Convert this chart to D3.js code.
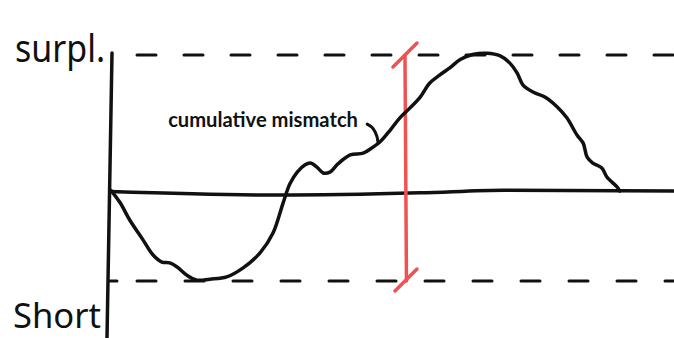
<!DOCTYPE html>
<html>
<head>
<meta charset="utf-8">
<script src="https://cdn.jsdelivr.net/npm/d3@7"></script>
<style>
  html, body { margin: 0; padding: 0; background: #fff; overflow: hidden; }
  svg { display: block; }
</style>
</head>
<body>
<svg id="chart" width="674" height="338"></svg>
<script>
// Cumulative mismatch between supply and demand over time (arbitrary units)
const timeSteps = [0.2, 1.8, 3.5, 5.85, 7.6, 9.2, 10.6, 11.9, 13.6, 15.4, 17.7, 20.7, 23.6, 26.6, 28.9,
  30.7, 31.9, 33.2, 34.6, 35.5, 36.7, 37.8, 39.0, 40.4, 42.6, 44.9, 46.6, 47.9, 49.7, 51.4, 53.2,
  55.0, 56.7, 58.5, 60.3, 62.1, 64.3, 66.8, 69.2, 70.9, 72.2, 73.2, 75.0, 77.1, 79.3, 81.0, 82.8,
  83.9, 84.6, 85.6, 87.2, 88.1, 89.9, 90.4];
const mismatch = [0.0, -0.27, -0.65, -1.09, -1.42, -1.58, -1.60, -1.69, -1.87, -1.98, -1.96, -1.91, -1.71, -1.38, -0.94,
  -0.27, 0.15, 0.41, 0.57, 0.61, 0.52, 0.39, 0.41, 0.59, 0.79, 0.83, 0.96, 1.08, 1.34, 1.61, 1.83,
  2.07, 2.38, 2.56, 2.72, 2.90, 3.01, 3.04, 2.98, 2.82, 2.60, 2.34, 2.18, 2.07, 1.85, 1.61, 1.23,
  1.05, 0.74, 0.61, 0.50, 0.30, 0.08, -0.01];

// Hand-drawn zero line (slight wobble)
const zeroLineT = [0, 30, 55, 70, 100];
const zeroLineV = [-0.02, -0.10, -0.05, 0.01, -0.01];

// Reference levels
const surplusLevel = 3;
const shortLevel = -2;
const levelLabels = ["surpl.", "Short"];

// Range marker (red bar spanning short -> surplus)
const rangeMarkT = 52.3;

// Series annotation
const seriesLabel = "cumulative mismatch";
const labelT = 43.97, labelV = 1.41;
const leaderT = [45.6, 46.6, 47.3, 47.5];
const leaderV = [1.47, 1.38, 1.21, 1.08];

const W = 674, H = 338;
const svg = d3.select("#chart");
svg.append("rect").attr("width", W).attr("height", H).attr("fill", "#fff");

const x = d3.scaleLinear().domain([0, 100]).range([110, 674]);
const y = d3.scaleLinear().domain([shortLevel, surplusLevel]).range([281, 55]);

const ink = "#111";
const red = "#f05252";

// Dashed reference lines
svg.append("line")
  .attr("x1", 137).attr("x2", W)
  .attr("y1", y(surplusLevel)).attr("y2", y(surplusLevel))
  .attr("stroke", ink).attr("stroke-width", 3)
  .attr("stroke-dasharray", "19,28").attr("stroke-linecap", "round");
svg.append("line")
  .attr("x1", x(0)).attr("x2", x(0) + 7)
  .attr("y1", y(shortLevel)).attr("y2", y(shortLevel))
  .attr("stroke", ink).attr("stroke-width", 3).attr("stroke-linecap", "round");
svg.append("line")
  .attr("x1", 137).attr("x2", W)
  .attr("y1", y(shortLevel)).attr("y2", y(shortLevel))
  .attr("stroke", ink).attr("stroke-width", 3)
  .attr("stroke-dasharray", "19,29").attr("stroke-linecap", "round");

// Vertical axis
svg.append("line")
  .attr("x1", x(0) + 2).attr("y1", 53)
  .attr("x2", x(0) - 3).attr("y2", H)
  .attr("stroke", ink).attr("stroke-width", 3.5).attr("stroke-linecap", "round");

// Zero line
const zeroPts = zeroLineT.map((t, i) => [t, zeroLineV[i]]);
svg.append("path")
  .attr("d", d3.line().x(d => x(d[0])).y(d => y(d[1])).curve(d3.curveMonotoneX)(zeroPts))
  .attr("fill", "none").attr("stroke", ink).attr("stroke-width", 3.5).attr("stroke-linecap", "round");

// Red range marker
const rx = x(rangeMarkT);
const redG = svg.append("g").attr("stroke", red).attr("stroke-width", 3.5).attr("stroke-linecap", "round");
redG.append("line").attr("x1", rx).attr("x2", rx + 1.5)
  .attr("y1", y(surplusLevel)).attr("y2", y(shortLevel));
redG.append("line")
  .attr("x1", rx - 12).attr("y1", y(surplusLevel) + 12)
  .attr("x2", rx + 12).attr("y2", y(surplusLevel) - 12);
redG.append("line")
  .attr("x1", rx - 10).attr("y1", y(shortLevel) + 10)
  .attr("x2", rx + 12).attr("y2", y(shortLevel) - 12);

// Cumulative mismatch curve
const pts = timeSteps.map((t, i) => [t, mismatch[i]]);
svg.append("path")
  .attr("d", d3.line().x(d => x(d[0])).y(d => y(d[1])).curve(d3.curveCatmullRom.alpha(0.5))(pts))
  .attr("fill", "none").attr("stroke", ink).attr("stroke-width", 3.5)
  .attr("stroke-linejoin", "round").attr("stroke-linecap", "round");

// Annotation leader
const leadPts = leaderT.map((t, i) => [t, leaderV[i]]);
svg.append("path")
  .attr("d", d3.line().x(d => x(d[0])).y(d => y(d[1])).curve(d3.curveCatmullRom)(leadPts))
  .attr("fill", "none").attr("stroke", ink).attr("stroke-width", 3).attr("stroke-linecap", "round");

// Annotation label
const lbl = svg.append("text")
  .attr("x", x(labelT)).attr("y", y(labelV))
  .attr("text-anchor", "end")
  .attr("font-family", "Lato, 'Open Sans', sans-serif")
  .attr("font-weight", 700)
  .attr("font-size", 18)
  .attr("fill", ink)
  .text(seriesLabel);
const lw = lbl.node().getComputedTextLength();
lbl.attr("font-size", 18 * 190 / lw);

// Level labels
svg.append("text")
  .attr("x", 15).attr("y", 62)
  .attr("font-family", "'Noto Sans', sans-serif")
  .attr("font-size", 38)
  .attr("textLength", 90).attr("lengthAdjust", "spacingAndGlyphs")
  .attr("fill", ink)
  .text(levelLabels[0]);
svg.append("text")
  .attr("x", 13).attr("y", 328)
  .attr("font-family", "'Noto Sans', sans-serif")
  .attr("font-size", 34)
  .attr("textLength", 88).attr("lengthAdjust", "spacingAndGlyphs")
  .attr("fill", ink)
  .text(levelLabels[1]);
</script>
</body>
</html>
